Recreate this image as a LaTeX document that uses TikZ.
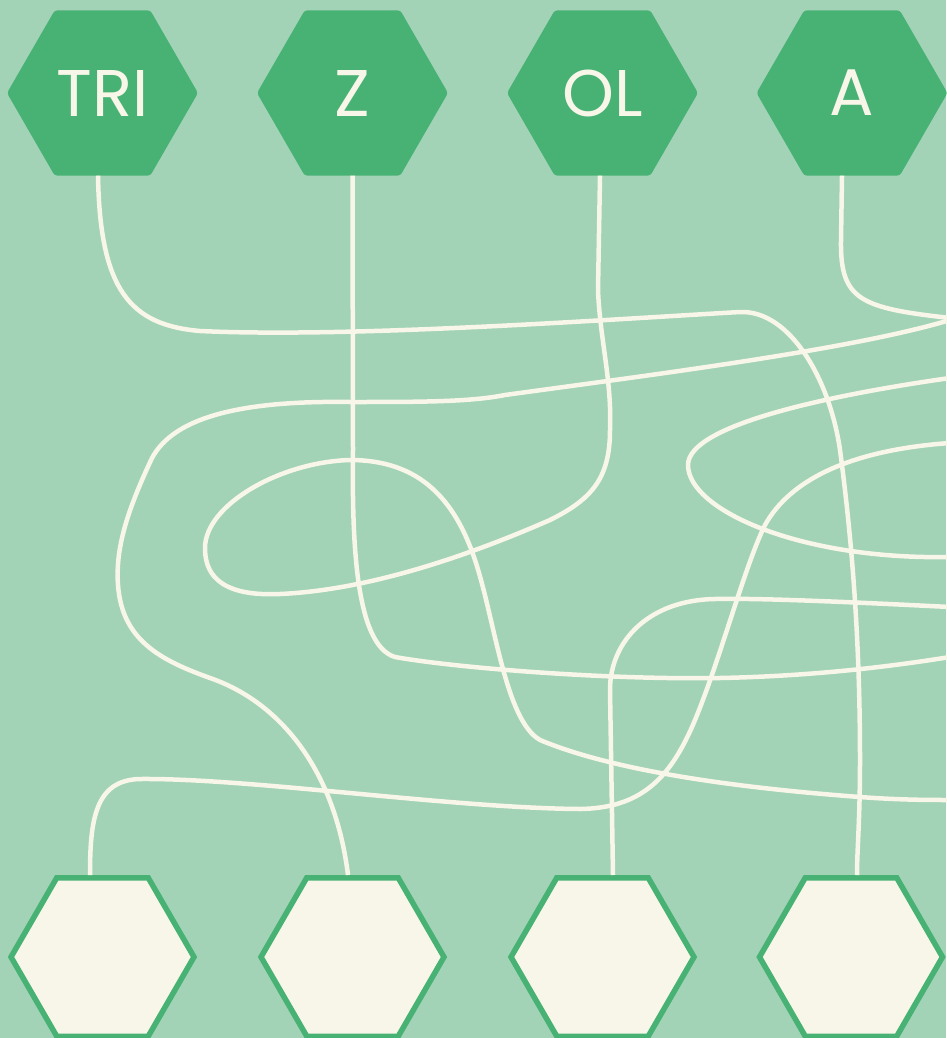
\documentclass[tikz,border=0pt]{standalone}
\usepackage{fontspec}
\usepackage{tikz}
\usetikzlibrary{shapes.geometric}
\newfontfamily\hexfont{Poppins}
\definecolor{myMint}{RGB}{163,211,183}
\definecolor{myGreen}{RGB}{72,178,116}
\definecolor{myCream}{RGB}{248,246,232}

\begin{document}
\begin{tikzpicture}[
  x=1pt, y=-1pt,
  hx/.style={regular polygon, regular polygon sides=6, minimum size=191pt,
    inner sep=0pt, outer sep=0pt, fill=myGreen, rounded corners=3pt,
    text=myCream, font=\hexfont\fontsize{66}{80}\selectfont},
  slot/.style={regular polygon, regular polygon sides=6, minimum size=183pt,
    inner sep=0pt, fill=myCream, draw=myGreen, line width=5.5pt},
  wire/.style={draw=myCream, line width=4.5pt},
]
  \fill[myMint] (0,0) rectangle (946,1038);
  \useasboundingbox (0,0) rectangle (946,1038);

  \node[hx] (tri) at (102.5,93) {TRI};
  \node[hx] (z)   at (352.5,93) {Z};
  \node[hx] (ol)  at (602.5,93) {OL};
  \node[hx] (a)   at (852,93)   {A};

  \node[slot] (s1) at (102.5,957) {};
  \node[slot] (s2) at (352.5,957) {};
  \node[slot] (s3) at (602.5,957) {};
  \node[slot] (s4) at (851,957)   {};

  % loose ends past the right edge
  \coordinate (e1) at (950,318);
  \coordinate (e2) at (950,320);
  \coordinate (e3) at (950,378);
  \coordinate (e4) at (950,657);
  \coordinate (e5) at (950,800);
  \coordinate (e6) at (950,557);
  \coordinate (e7) at (950,443);
  \coordinate (e8) at (950,607);

  \draw[wire] ([xshift=-4.5pt]tri.south) .. controls (100,290) and (130,325) .. (200,331)
    .. controls (350,338) and (600,320) .. (740,312)
    .. controls (790,310) and (830,380) .. (840,450)
    .. controls (852,540) and (860,640) .. (860,760)
    .. controls (860,820) and (857,850) .. ([xshift=6pt]s4.north);
  \draw[wire] (z.south) -- (353,450) .. controls (352,540) and (355,645) .. (395,657)
    .. controls (450,667) and (600,680) .. (720,678)
    .. controls (820,676) and (900,665) .. (e4);
  \draw[wire] ([xshift=-2.5pt]ol.south) -- (598,290)
    .. controls (600,340) and (612,380) .. (610,430)
    .. controls (610,480) and (590,500) .. (550,520)
    .. controls (470,555) and (370,590) .. (280,594)
    .. controls (215,597) and (205,570) .. (205,548)
    .. controls (205,505) and (280,462) .. (350,460)
    .. controls (420,460) and (455,500) .. (475,560)
    .. controls (495,620) and (505,720) .. (540,740)
    .. controls (600,765) and (700,785) .. (860,797)
    .. controls (900,800) and (930,800) .. (e5);
  \draw[wire] ([xshift=-10pt]a.south) -- (841,240) .. controls (840,300) and (860,308) .. (e1);

  \draw[wire] (e2) .. controls (850,350) and (650,375) .. (505,395)
    .. controls (470,402) and (420,402) .. (350,402)
    .. controls (220,400) and (170,425) .. (152,458)
    .. controls (130,505) and (115,545) .. (118,585)
    .. controls (122,640) and (160,660) .. (210,678)
    .. controls (280,702) and (335,770) .. ([xshift=-4.5pt]s2.north);
  \draw[wire] (e3) .. controls (830,395) and (688,425) .. (688,465)
    .. controls (688,510) and (800,560) .. (e6);
  \draw[wire] (e7) .. controls (850,450) and (790,480) .. (765,525)
    .. controls (745,565) and (720,660) .. (695,720)
    .. controls (670,780) and (640,808) .. (580,809)
    .. controls (450,808) and (250,778) .. (140,779)
    .. controls (95,780) and (90,820) .. ([xshift=-12.5pt]s1.north);
  \draw[wire] (e8) .. controls (850,602) and (760,598) .. (715,599)
    .. controls (650,600) and (610,640) .. (610,690) -- ([xshift=10.5pt]s3.north);
\end{tikzpicture}
\end{document}
